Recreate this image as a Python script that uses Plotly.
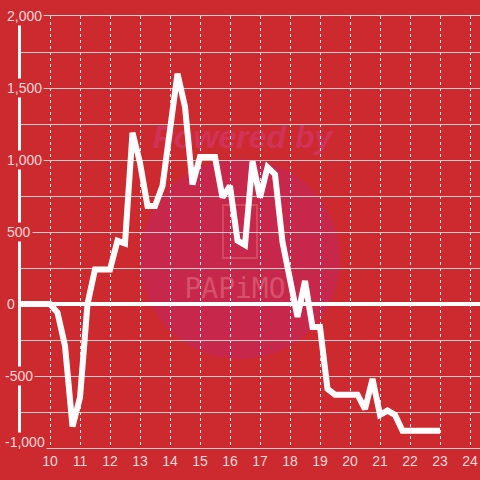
import plotly.graph_objects as go

# series
x_vals = [9.0, 9.25, 9.5, 9.75, 10.0, 10.25, 10.5, 10.75, 11.0, 11.25,
          11.5, 11.75, 12.0, 12.25, 12.5, 12.75, 13.0, 13.25, 13.5, 13.75,
          14.0, 14.25, 14.5, 14.75, 15.0, 15.25, 15.5, 15.75, 16.0, 16.25,
          16.5, 16.75, 17.0, 17.25, 17.5, 17.75, 18.0, 18.25, 18.5, 18.75,
          19.0, 19.25, 19.5, 19.75, 20.0, 20.25, 20.5, 20.75, 21.0, 21.25,
          21.5, 21.75, 22.0, 22.25, 22.5, 22.75, 23.0]
y_vals = [0, 0, 0, 0, 0, -60, -290, -850, -650, 0,
          240, 240, 240, 440, 420, 1190, 980, 680, 680, 820,
          1220, 1600, 1370, 830, 1020, 1020, 1020, 740, 820, 440,
          410, 990, 740, 950, 900, 430, 190, -90, 160, -160,
          -160, -590, -630, -630, -630, -630, -730, -520, -770, -740,
          -770, -880, -880, -880, -880, -880, -880]

x_ticks = list(range(10, 25))
y_label_vals = [2000, 1500, 1000, 500, 0, -500, -1000]
y_label_text = ["2,000", "1,500", "1,000", "500", "0", "-500", "-1,000"]

BG = "#cc2a2f"
LABEL = "#f4d8d8"
FONT = "Liberation Sans, Arial, sans-serif"

# plot area in pixels: x 21..480, y 16..448
L, T, W, H = 21, 16, 459, 432


def px_x(p):
    return (p - L) / W


def px_y(p):
    return (T + H - p) / H


fig = go.Figure()
fig.add_scatter(x=x_vals, y=y_vals, mode="lines",
                line=dict(color="white", width=6), hoverinfo="skip",
                showlegend=False)

# faint watermark behind everything
shapes = [
    dict(type="circle", xref="paper", yref="paper", layer="below",
         x0=px_x(140), x1=px_x(340), y0=px_y(359), y1=px_y(159),
         fillcolor="#c7274a", line=dict(width=0)),
    dict(type="rect", xref="paper", yref="paper", layer="below",
         x0=px_x(223), x1=px_x(257), y0=px_y(258), y1=px_y(205),
         fillcolor="rgba(0,0,0,0)", line=dict(color="#d3495f", width=2)),
    dict(type="rect", xref="paper", yref="paper", layer="below",
         x0=px_x(145), x1=px_x(340), y0=px_y(150), y1=px_y(118),
         fillcolor="rgba(0,0,0,0)", line=dict(width=0),
         label=dict(text="<b><i>Powered by</i></b>",
                    font=dict(family=FONT, size=32, color="#d03258"))),
    dict(type="rect", xref="paper", yref="paper", layer="below",
         x0=px_x(160), x1=px_x(310), y0=px_y(302), y1=px_y(270),
         fillcolor="rgba(0,0,0,0)", line=dict(width=0),
         label=dict(text="PAPiMO",
                    font=dict(family="DejaVu Sans Mono, monospace", size=28,
                              color="#d5526c"))),
]

annotations = []
for v, t in zip(y_label_vals, y_label_text):
    annotations.append(dict(
        xref="paper", yref="y", x=px_x(3 if v < 0 else 5), y=v,
        xanchor="left", yanchor="middle", text=t, showarrow=False,
        yshift=6 if v == y_label_vals[-1] else 0,
        bgcolor=BG, borderpad=1,
        font=dict(family=FONT, size=14, color=LABEL)))

fig.update_layout(
    width=480, height=480,
    margin=dict(l=L, r=0, t=T, b=480 - T - H),
    paper_bgcolor=BG, plot_bgcolor=BG,
    font=dict(family=FONT, size=14, color=LABEL),
    shapes=shapes, annotations=annotations,
    xaxis=dict(range=[10 - 29 / 30, 10 + 430 / 30], tickvals=x_ticks,
               ticks="", showgrid=True, gridcolor="#eeeeee", gridwidth=1,
               griddash="dot", zeroline=False, showline=True,
               linecolor="#d0d0d0", linewidth=1, mirror=True,
               tickfont=dict(family=FONT, size=14, color=LABEL)),
    yaxis=dict(range=[-1000, 2000], dtick=250, showticklabels=False,
               ticks="", showgrid=True, gridcolor="#cfcfcf", gridwidth=1,
               zeroline=True, zerolinecolor="white", zerolinewidth=4,
               showline=True, linecolor="white", linewidth=3),
)

fig.write_html("out.html", config={"displayModeBar": False},
               post_script="document.body.style.margin='0px';")
